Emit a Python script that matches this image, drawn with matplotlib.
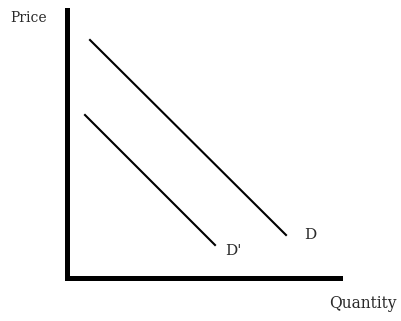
import matplotlib
matplotlib.use("Agg")
import matplotlib.pyplot as plt

# Demand curves (pixel-space coordinates of the diagram: x right, y down)
d_x = [90, 286]
d_y = [40, 235]
dprime_x = [85, 215]
dprime_y = [115, 245]

axis_x = [66.5, 66.5, 340]
axis_y = [10, 278, 278]

labels = {"Price": (10, 18, 10), "Quantity": (329, 304, 11.2), "D": (304, 235, 11), "D'": (225, 251, 11)}

fig = plt.figure(figsize=(4.01, 3.21), dpi=100)
ax = fig.add_axes([0, 0, 1, 1])
ax.set_xlim(0, 401)
ax.set_ylim(321, 0)
ax.axis("off")

ax.plot(axis_x, axis_y, color="black", lw=3.6, solid_joinstyle="miter")
ax.plot(d_x, d_y, color="black", lw=1.5)
ax.plot(dprime_x, dprime_y, color="black", lw=1.5)

for txt, (x, y, fs) in labels.items():
    ax.text(x, y, txt, family="DejaVu Serif", fontsize=fs, ha="left", va="center", color="#2a2a2a")

fig.savefig("out.png", dpi=100)
